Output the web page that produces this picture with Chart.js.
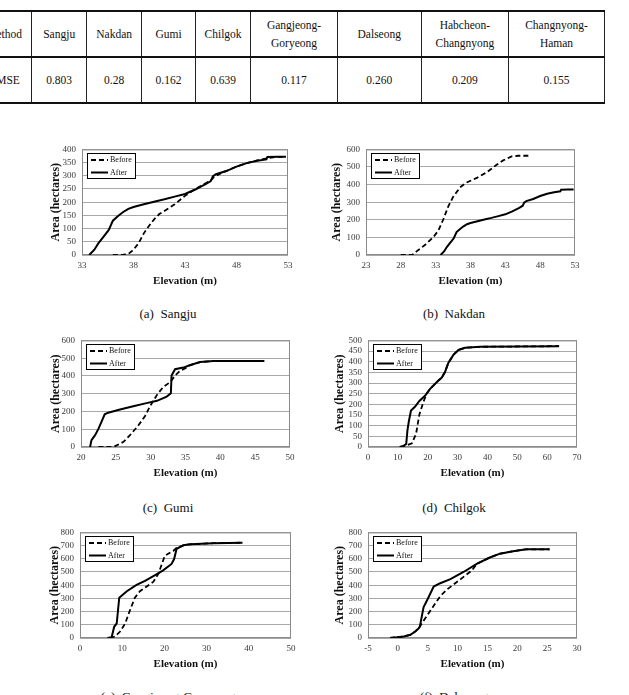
<!DOCTYPE html>
<html>
<head>
<meta charset="utf-8">
<script src="https://cdn.jsdelivr.net/npm/chart.js@4.4.0/dist/chart.umd.min.js"></script>
<style>
  html, body { margin: 0; padding: 0; background: #fff; }
  body { width: 629px; height: 695px; position: relative; overflow: hidden; font-family: "Liberation Serif", serif; }
  #tbl { position: absolute; left: -24px; top: 10px; border-collapse: collapse; table-layout: fixed; font-family: "Liberation Serif", serif; font-size: 11.5px; color: #111; }
  #tbl td { border-left: 1px solid #222; border-right: 1px solid #222; text-align: center; padding: 0; white-space: pre-line; line-height: 18px; }
  #tbl tr.head td { height: 44px; border-top: 2px solid #111; border-bottom: 2px solid #111; }
  #tbl tr.vals td { height: 44px; border-bottom: 2px solid #111; }
  canvas { position: absolute; }
  .cap { position: absolute; font-size: 13px; line-height: 15px; white-space: pre; transform: translate(-50%, -50%); color: #111; }
</style>
</head>
<body>
<table id="tbl"></table>

<script>
/* ------------------------------ Table data ------------------------------ */
const sites = ['Method', 'Sangju', 'Nakdan', 'Gumi', 'Chilgok', 'Gangjeong-\nGoryeong', 'Dalseong', 'Habcheon-\nChangnyong', 'Changnyong-\nHaman'];
const rmse = ['RMSE', '0.803', '0.28', '0.162', '0.639', '0.117', '0.260', '0.209', '0.155'];

/* --------------------- Area-elevation curves [elev, area] --------------------- */
const sangjuBefore = [[36,0],[37,1],[37.5,4],[38,20],[38.5,45],[39,82],[39.5,110],[40,135],[40.5,155],[41,167],[42,192],[43,224],[44,250],[45,272],[45.5,282],[45.8,295],[46.5,310],[47,318],[48,335],[49,348],[50,358],[51,367],[52,372],[52.8,372]];
const sangjuAfter = [[33.7,0],[34.2,20],[34.6,45],[35.1,70],[35.6,95],[36,130],[36.5,148],[37,163],[37.5,175],[38,182],[39,192],[40,202],[41,211],[42,221],[43,231],[44,248],[45,268],[45.5,280],[45.7,298],[46,306],[47,318],[48,335],[49,348],[50,357],[50.9,362],[51,371],[52,372],[52.8,372]];

const nakdanBefore = [[28,0],[29.6,0],[30.3,22],[31.5,58],[32.7,103],[33.4,140],[34.1,203],[34.8,275],[35.5,330],[36.5,384],[37.4,411],[38.9,438],[40.3,469],[41.7,511],[42.7,538],[43.9,560],[44.8,564],[46.4,564]];
const nakdanAfter = [[33.7,0],[34.2,20],[34.6,45],[35.1,70],[35.6,95],[36,130],[36.5,148],[37,163],[37.5,175],[38,182],[39,192],[40,202],[41,211],[42,221],[43,231],[44,248],[45,268],[45.5,280],[45.7,298],[46,306],[47,318],[48,335],[49,348],[50,357],[50.9,362],[51,371],[52,372],[52.8,372]];

const gumiBefore = [[22.5,0],[24.2,0],[24.9,5],[26.1,29],[27,65],[28.2,120],[29.2,175],[29.9,229],[30.9,293],[31.8,338],[32.8,365],[33.5,402],[34.2,429],[35.2,447],[35.6,460],[37.1,478],[39,484],[46.3,484]];
const gumiAfter = [[21.3,0],[21.5,38],[22,65],[22.5,102],[23,147],[23.4,184],[23.9,193],[25.6,211],[27.5,229],[29.4,247],[30.9,260],[32.3,284],[32.9,302],[33,402],[33.5,438],[34.7,447],[35.6,460],[37.1,478],[39,484],[46.3,484]];

const chilgokBefore = [[10.8,0],[13,8],[14.7,17],[16.1,62],[17.2,152],[18.6,213],[19.7,251],[20.8,273],[23,304],[24.7,326],[25.8,352],[26.9,394],[28.6,432],[30.3,455],[32.5,465],[37.5,470],[64,473]];
const chilgokAfter = [[10.6,0],[11.9,5],[12.8,14],[13.2,77],[13.7,122],[14.4,171],[15.8,190],[17.2,216],[19.1,240],[20.8,273],[23,304],[24.7,326],[25.8,352],[26.9,394],[28.6,432],[30.3,455],[32.5,465],[37.5,470],[64,473]];

const gangjeongBefore = [[7.1,0],[8.3,12],[9.5,49],[10.7,110],[11.8,207],[13,305],[14.2,354],[15.8,390],[17.4,427],[18.6,488],[19.4,561],[20.1,622],[21.3,646],[22.1,659],[22.9,683],[24.5,702],[26.1,710],[31.6,718],[38.5,722]];
const gangjeongAfter = [[6.5,0],[7.5,5],[8.1,85],[8.7,110],[9.3,305],[11.1,354],[13.4,402],[15.4,432],[17.8,476],[19.7,512],[21.7,561],[22.3,598],[22.9,676],[24.5,702],[26.1,710],[31.6,718],[38.5,722]];

const dalseongBefore = [[-1.3,0],[-0.2,5],[1,12],[2.1,24],[2.9,49],[3.5,73],[4,110],[4.9,171],[6,244],[7.1,317],[8.2,366],[9.6,415],[11,463],[12.4,512],[13.2,561],[15.4,610],[17.1,639],[19.3,658],[21.5,672],[25.4,672]];
const dalseongAfter = [[-1.3,0],[-0.2,5],[1,12],[2.1,24],[2.9,49],[3.5,73],[3.7,90],[4.3,232],[5.1,305],[6,390],[7.1,415],[8.8,446],[11,500],[13.2,561],[15.4,610],[17.1,639],[19.3,658],[21.5,672],[25.4,672]];

/* ------------------------------- Axis ranges ------------------------------- */
const xRanges = { a: [33, 53, 5], b: [23, 53, 5], c: [20, 50, 5], d: [0, 70, 10], e: [0, 50, 10], f: [-5, 30, 5] };
const yRanges = { a: [0, 400, 50], b: [0, 600, 100], c: [0, 600, 100], d: [0, 500, 50], e: [0, 800, 100], f: [0, 800, 100] };
const captions = { a: '(a)  Sangju', b: '(b)  Nakdan', c: '(c)  Gumi', d: '(d)  Chilgok', e: '(e)  Gangjeong-Goryeong', f: '(f)  Dalseong' };

/* ------------------------------- Table build ------------------------------- */
const tbl = document.getElementById('tbl');
const colW = [60, 60, 60, 60, 60, 94, 94, 94, 104];
const colgroup = document.createElement('colgroup');
colW.forEach(w => { const c = document.createElement('col'); c.style.width = w + 'px'; colgroup.append(c); });
tbl.append(colgroup);
[[sites, 'head'], [rmse, 'vals']].forEach(([row, cls]) => {
  const tr = document.createElement('tr');
  tr.className = cls;
  row.forEach(t => { const td = document.createElement('td'); td.textContent = t; tr.append(td); });
  tbl.append(tr);
});

/* -------------------------------- Plugins -------------------------------- */
const frame = {
  id: 'frame',
  beforeDatasetsDraw(chart) {
    const { ctx, chartArea: a } = chart;
    ctx.save();
    ctx.strokeStyle = '#8a8a8a';
    ctx.lineWidth = 1;
    ctx.strokeRect(a.left + 0.5, a.top + 0.5, a.width - 1, a.height - 1);
    ctx.restore();
  }
};

const boxLegend = {
  id: 'boxLegend',
  afterDraw(chart) {
    const { ctx, chartArea: a } = chart;
    const x = Math.round(a.left) + 5, y = Math.round(a.top) + 4, w = 48, h = 25;
    ctx.save();
    ctx.fillStyle = '#fff';
    ctx.fillRect(x, y, w, h);
    ctx.strokeStyle = '#000';
    ctx.lineWidth = 1;
    ctx.strokeRect(x + 0.5, y + 0.5, w, h);
    ctx.font = '8px "Liberation Serif"';
    ctx.textBaseline = 'middle';
    ctx.fillStyle = '#111';
    chart.data.datasets.forEach((ds, i) => {
      const ly = y + 7 + i * 12.5;
      ctx.setLineDash(ds.borderDash || []);
      ctx.lineWidth = ds.borderWidth;
      ctx.beginPath();
      ctx.moveTo(x + 4, ly);
      ctx.lineTo(x + 21, ly);
      ctx.stroke();
      ctx.setLineDash([]);
      ctx.fillText(ds.label, x + 23, ly);
    });
    ctx.restore();
  }
};

/* -------------------------------- Panels -------------------------------- */
const tickFont = { family: '"Liberation Serif"', size: 9 };
const titleFont = { family: '"Liberation Serif"', size: 11, weight: 'bold' };

const makePanel = (key, box, titleX, capX, capY, before, after) => {
  const padTop = 8, padRight = 12, xAxisH = 33;
  const left = titleX - 7;
  const yAxisW = box[0] - left;
  const cv = document.createElement('canvas');
  cv.width = box[2] - left + padRight;
  cv.height = box[3] - box[1] + padTop + xAxisH;
  cv.style.left = left + 'px';
  cv.style.top = (box[1] - padTop) + 'px';
  document.body.append(cv);

  const cap = document.createElement('div');
  cap.className = 'cap';
  cap.textContent = captions[key];
  cap.style.left = capX + 'px';
  cap.style.top = capY + 'px';
  document.body.append(cap);

  const [xMin, xMax, xStep] = xRanges[key];
  const [yMin, yMax, yStep] = yRanges[key];

  new Chart(cv, {
    type: 'line',
    data: {
      datasets: [
        { label: 'Before', data: before.map(([x, y]) => ({ x, y })), borderColor: '#000', borderWidth: 1.8, borderDash: [5, 3], pointRadius: 0, tension: 0, fill: false },
        { label: 'After', data: after.map(([x, y]) => ({ x, y })), borderColor: '#000', borderWidth: 2, pointRadius: 0, tension: 0, fill: false }
      ]
    },
    options: {
      responsive: false,
      animation: false,
      devicePixelRatio: 1,
      layout: { padding: { left: 0, top: padTop, right: padRight, bottom: 0 } },
      plugins: { legend: { display: false }, tooltip: { enabled: false } },
      scales: {
        x: {
          type: 'linear', min: xMin, max: xMax,
          ticks: { stepSize: xStep, font: tickFont, color: '#3a3a3a', padding: 5, maxRotation: 0, autoSkip: false },
          grid: { display: false, drawTicks: false },
          border: { display: false },
          title: { display: true, text: 'Elevation (m)', font: titleFont, color: '#111', padding: 0 },
          afterFit: s => { s.height = xAxisH; }
        },
        y: {
          type: 'linear', min: yMin, max: yMax,
          ticks: { stepSize: yStep, font: tickFont, color: '#3a3a3a', padding: 6, autoSkip: false },
          grid: { color: '#a8a8a8', drawTicks: false },
          border: { display: false },
          title: { display: true, text: 'Area (hectares)', font: { ...titleFont, size: 12 }, color: '#111', padding: 0 },
          afterFit: s => { s.width = yAxisW; }
        }
      }
    },
    plugins: [frame, boxLegend]
  });
};

/* ---------------------------------- MAIN ---------------------------------- */
makePanel('a', [82, 146, 288, 255], 56, 168, 313, sangjuBefore, sangjuAfter);
makePanel('b', [366, 146, 575, 255], 337, 454, 313, nakdanBefore, nakdanAfter);
makePanel('c', [81, 337, 290, 447], 56, 168, 507, gumiBefore, gumiAfter);
makePanel('d', [368, 337, 577, 447], 340, 454, 507, chilgokBefore, chilgokAfter);
makePanel('e', [80, 529, 291, 638], 55, 168, 696, gangjeongBefore, gangjeongAfter);
makePanel('f', [368, 529, 577, 638], 340, 454, 696, dalseongBefore, dalseongAfter);
</script>
</body>
</html>
